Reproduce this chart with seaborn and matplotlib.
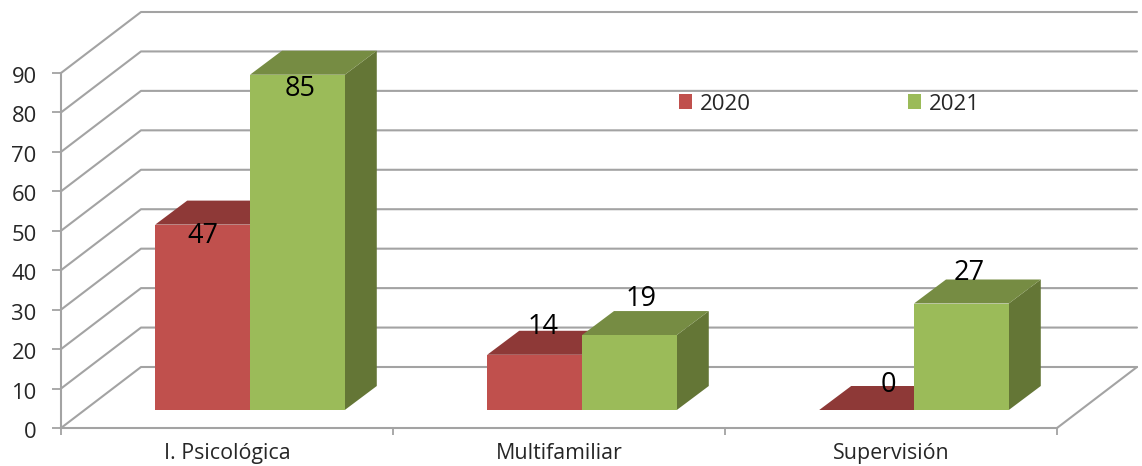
import pandas as pd
import matplotlib
matplotlib.use("Agg")
import matplotlib.pyplot as plt
from matplotlib.patches import Polygon, Patch
from matplotlib.transforms import Affine2D, ScaledTranslation
import seaborn as sns

categories = ["I. Psicológica", "Multifamiliar", "Supervisión"]
values_2020 = [47, 14, 0]
values_2021 = [85, 19, 27]
years = ["2020", "2021"]
y_ticks = [0, 10, 20, 30, 40, 50, 60, 70, 80, 90]

# label nudges from the top centre of each bar, in pixels
label_nudge_2020 = [(0, -11), (8, 28), (22, 25)]
label_nudge_2021 = [(3, -14), (12, 36), (8, 30)]

front_colors = {"2020": "#C0504D", "2021": "#9BBB59"}
top_colors = {"2020": "#8E3937", "2021": "#768C43"}
side_colors = {"2020": "#7A312F", "2021": "#647636"}
line_color = "#A3A3A3"
text_color = "#262626"

sns.set_theme(style="white")
plt.rcParams["font.family"] = ["Open Sans", "DejaVu Sans"]

df = pd.DataFrame({
    "cat": categories * 2,
    "year": [years[0]] * 3 + [years[1]] * 3,
    "value": values_2020 + values_2021,
})

W, H = 1142, 466
fig = plt.figure(figsize=(W / 100, H / 100), dpi=100)
# axes = front plane of the fake 3d box
ax = fig.add_axes([61 / W, (H - 428) / H, 996 / W, 355 / H])

sns.barplot(data=df, x="cat", y="value", hue="year", palette=front_colors, saturation=1,
            width=0.571, gap=0, linewidth=0, legend=False, ax=ax, zorder=3)
ax.set_xlim(-0.5, 2.5)
ax.set_ylim(0, 90)
ax.set_xlabel("")
ax.set_ylabel("")
ax.patch.set_alpha(0)

px_x = 996 / 3
px_y = 355 / 90

# back wall and floor lines
wall_dx = 80 / px_x
wall_dy = 61 / px_y
for t in y_ticks:
    ax.plot([-0.5, -0.5 + wall_dx, 2.5 + wall_dx], [t, t + wall_dy, t + wall_dy],
            color=line_color, lw=1.5, clip_on=False, zorder=1)
ax.plot([2.5, 2.5 + wall_dx], [0, wall_dy], color=line_color, lw=1.5, clip_on=False, zorder=1)

# bars sit a bit inside the box, move them and add top and side faces
shift = ax.transData + Affine2D().translate(23, 18)
bar_dx = 32 / px_x
bar_dy = 24 / px_y
for year, container, nudges in zip(years, ax.containers, [label_nudge_2020, label_nudge_2021]):
    for bar, nudge, val in zip(container, nudges, container.datavalues):
        bar.set_transform(shift)
        x0 = bar.get_x()
        x1 = x0 + bar.get_width()
        top = bar.get_height()
        ax.add_patch(Polygon([(x0, top), (x1, top), (x1 + bar_dx, top + bar_dy), (x0 + bar_dx, top + bar_dy)],
                             closed=True, fc=top_colors[year], ec="none", transform=shift,
                             clip_on=False, zorder=2.6))
        ax.add_patch(Polygon([(x1, 0), (x1 + bar_dx, bar_dy), (x1 + bar_dx, top + bar_dy), (x1, top)],
                             closed=True, fc=side_colors[year], ec="none", transform=shift,
                             clip_on=False, zorder=2.5))
        bar.set_clip_on(False)
        ax.annotate(f"{val:.0f}", xy=((x0 + x1) / 2, top), xycoords=shift,
                    xytext=(nudge[0] * 0.72, nudge[1] * 0.72), textcoords="offset points",
                    ha="center", va="center", fontsize=19.5, color="black", zorder=6)

# the green bars have to cover the red tops
for bar in ax.containers[1]:
    bar.set_zorder(3.2)
for p in ax.patches:
    if p.get_facecolor()[:3] == matplotlib.colors.to_rgb(top_colors["2021"]):
        p.set_zorder(2.9)
    if p.get_facecolor()[:3] == matplotlib.colors.to_rgb(side_colors["2021"]):
        p.set_zorder(2.8)

sns.despine(ax=ax)
for side in ["left", "bottom"]:
    ax.spines[side].set_color(line_color)
    ax.spines[side].set_linewidth(1.5)
    ax.spines[side].set_zorder(1.5)

ax.set_yticks(y_ticks)
ax.tick_params(axis="y", length=6.5, width=1.3, color=line_color, labelsize=15.8,
               labelcolor=text_color, pad=11, left=True)
# tick labels sit slightly under their ticks in the original
for lab in ax.get_yticklabels():
    lab.set_transform(lab.get_transform() + ScaledTranslation(0, -2 / 100, fig.dpi_scale_trans))
ax.set_xticks([0, 1, 2], categories)
ax.set_xticks([-0.5, 0.5, 1.5, 2.5], minor=True)
ax.tick_params(axis="x", which="major", length=0, labelsize=15.4, labelcolor=text_color, pad=11)
ax.tick_params(axis="x", which="minor", length=5, width=1.3, color=line_color, bottom=True)

handles = [Patch(fc=front_colors[y], ec="none") for y in years]
ax.legend(handles, years, ncol=2, frameon=False, loc="center left",
          bbox_to_anchor=(672 / W, (H - 104) / H), bbox_transform=fig.transFigure,
          fontsize=16, labelcolor=text_color, handlelength=0.62, handleheight=0.62,
          handletextpad=0.32, columnspacing=7.07, borderpad=0.3, borderaxespad=0)

fig.savefig("out.png", dpi=100)
